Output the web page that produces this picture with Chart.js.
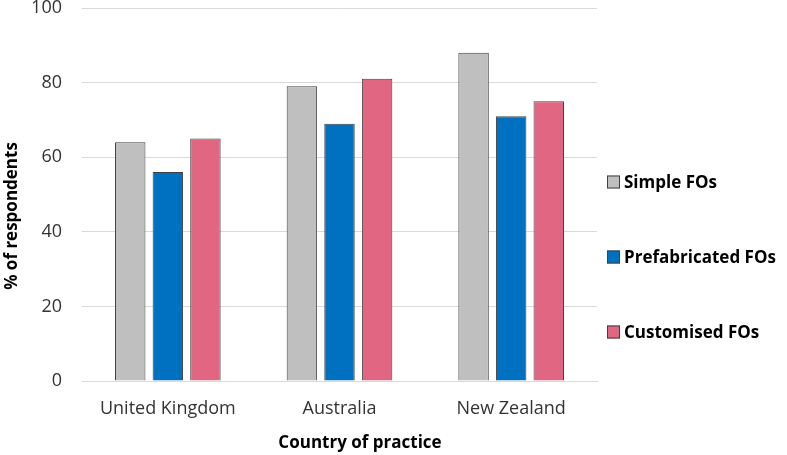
<!DOCTYPE html>
<html><head><meta charset="utf-8">
<script src="https://cdn.jsdelivr.net/npm/chart.js@4"></script>
<style>html,body{margin:0;padding:0;background:#fff}#wrap{width:787px;height:455px}</style>
</head><body><div id="wrap"><canvas id="c" width="787" height="455"></canvas></div>
<script>
const categories = ["United Kingdom", "Australia", "New Zealand"];
const simpleFOs = [64, 79, 88];
const prefabricatedFOs = [56, 69, 71];
const customisedFOs = [65, 81, 75];
const seriesNames = ["Simple FOs", "Prefabricated FOs", "Customised FOs"];
const yTicks = [0, 20, 40, 60, 80, 100];
const xTitle = "Country of practice";
const yTitle = "% of respondents";

const FONT = "'Open Sans', 'DejaVu Sans', sans-serif";

const sideLegend = {
  id: 'sideLegend',
  afterDraw(chart) {
    const ctx = chart.ctx;
    const ds = chart.data.datasets;
    const x0 = 607, yMid = 257, step = 75, box = 13;
    ctx.save();
    ctx.font = "bold 17px " + FONT;
    ctx.textBaseline = 'middle';
    ctx.textAlign = 'left';
    ds.forEach((d, i) => {
      const y = yMid + (i - (ds.length - 1) / 2) * step;
      ctx.fillStyle = d.backgroundColor;
      ctx.fillRect(x0, y - box / 2, box, box);
      ctx.strokeStyle = '#404040';
      ctx.lineWidth = 1;
      ctx.strokeRect(x0 + 0.5, y - box / 2 + 0.5, box - 1, box - 1);
      ctx.fillStyle = '#000';
      ctx.fillText(d.label, x0 + box + 4, y + 1);
    });
    // axis titles
    ctx.font = "bold 17px " + FONT;
    ctx.fillStyle = '#000';
    ctx.textAlign = 'center';
    ctx.textBaseline = 'middle';
    ctx.fillText(xTitle, 360, 443);
    ctx.translate(12, 216);
    ctx.rotate(-Math.PI / 2);
    ctx.fillText(yTitle, 0, 0);
    ctx.restore();
  }
};

new Chart(document.getElementById('c'), {
  type: 'bar',
  data: {
    labels: categories,
    datasets: [
      {label: seriesNames[0], data: simpleFOs, backgroundColor: '#bfbfbf', borderColor: '#404040', borderWidth: 1},
      {label: seriesNames[1], data: prefabricatedFOs, backgroundColor: '#0070c0', borderColor: '#404040', borderWidth: 1},
      {label: seriesNames[2], data: customisedFOs, backgroundColor: '#e06681', borderColor: '#404040', borderWidth: 1}
    ]
  },
  plugins: [sideLegend],
  options: {
    responsive: false,
    animation: false,
    devicePixelRatio: 1,
    datasets: {bar: {categoryPercentage: 0.657, barPercentage: 0.81}},
    layout: {padding: {top: 8, right: 190, left: 2, bottom: 0}},
    plugins: {
      tooltip: {enabled: false},
      legend: {display: false}
    },
    scales: {
      x: {
        afterFit: (s) => { s.paddingLeft = 0; s.paddingRight = 0; s.height = 74; },
        grid: {display: false, drawTicks: false},
        border: {display: true, color: '#d9d9d9', width: 1},
        ticks: {color: '#333', font: {family: FONT, size: 18}, padding: 17},
        title: {display: false}
      },
      y: {
        min: 0, max: 100,
        afterFit: (s) => { s.paddingTop = 0; s.paddingBottom = 0; s.width = 80; },
        afterBuildTicks: (axis) => { axis.ticks = yTicks.map(v => ({value: v})); },
        grid: {color: '#d9d9d9', drawTicks: false},
        border: {display: false},
        ticks: {color: '#333', font: {family: FONT, size: 18}, padding: 20},
        title: {display: false}
      }
    }
  }
});
</script></body></html>
